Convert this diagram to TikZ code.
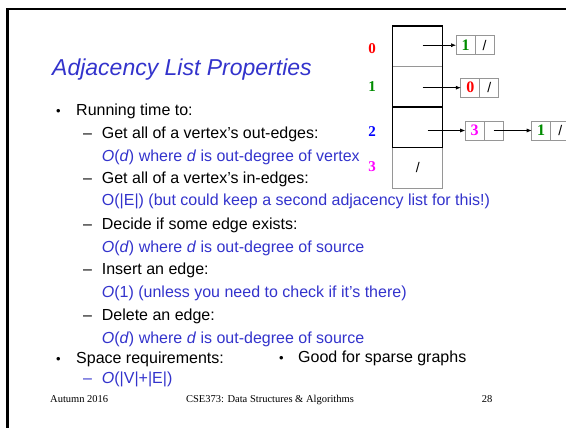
\documentclass[tikz,border=0pt]{standalone}
\usepackage{fontspec}
\setmainfont{Liberation Serif}
\setsansfont{Liberation Sans}
\usepackage{tikz}
\usetikzlibrary{arrows.meta, positioning}
\definecolor{sBlue}{RGB}{51, 51, 204}
\definecolor{sRed}{RGB}{255, 0, 0}
\definecolor{sGreen}{RGB}{0, 140, 0}
\definecolor{sIdx}{RGB}{0, 0, 255}
\definecolor{sMag}{RGB}{255, 0, 255}
\definecolor{sGray}{RGB}{150, 150, 150}

\tikzset{
  title/.style={anchor=base west, inner sep=0pt, text=sBlue,
                font=\sffamily\itshape\fontsize{23}{27}\selectfont},
  body/.style={anchor=base west, inner sep=0pt, font=\sffamily\fontsize{16}{19}\selectfont},
  blue/.style={body, text=sBlue},
  dot/.style={anchor=base west, inner sep=0pt, font=\sffamily\fontsize{13}{16}\selectfont},
  idx/.style={inner sep=0pt, font=\rmfamily\bfseries\fontsize{15}{17}\selectfont},
  cell/.style={draw=sGray, line width=0.8pt, minimum width=50, minimum height=40.5,
               inner sep=0pt, outer sep=0pt, font=\sffamily\fontsize{14}{16}\selectfont},
  half/.style={draw=sGray, line width=0.8pt, minimum width=19, minimum height=19,
               inner sep=0pt, outer sep=0pt, font=\sffamily\fontsize{14}{16}\selectfont},
  val/.style={font=\rmfamily\bfseries\fontsize{16}{18}\selectfont},
  foot/.style={anchor=base, inner sep=0pt, font=\rmfamily\fontsize{10.5}{12}\selectfont},
  ptr/.style={-{Latex[length=5pt, width=4pt]}, line width=0.6pt}
}

\begin{document}
\begin{tikzpicture}[x=1pt, y=-1pt]
  \useasboundingbox (0,0) rectangle (566,428);
  \draw[line width=2.5pt] (566,9) -- (7.5,9) -- (7.5,428);

  \node[title] (head) at (52,76) {Adjacency List Properties};

  \foreach \y/\t [count=\k] in {116/Running time to:, 363/Space requirements:}{
    \node[dot] (bd\k) at (56,\y) {•};
    \node[body] (bt\k) at (76,\y) {\t};
  }
  \foreach \y/\t [count=\k] in {138.5/{Get all of a vertex’s out-edges:},
                                183.5/{Get all of a vertex’s in-edges:},
                                229.5/{Decide if some edge exists:},
                                274.5/{Insert an edge:},
                                320/{Delete an edge:}}{
    \node[body] (sd\k) at (83,\y) {–};
    \node[body] (st\k) at (101.7,\y) {\t};
  }
  \foreach \y/\t [count=\k] in {161/{\textit{O}(\textit{d}) where \textit{d} is out-degree of vertex},
                                206/{O(|E|) (but could keep a second adjacency list for this!)},
                                252/{\textit{O}(\textit{d}) where \textit{d} is out-degree of source},
                                297/{\textit{O}(1) (unless you need to check if it’s there)},
                                343/{\textit{O}(\textit{d}) where \textit{d} is out-degree of source}}{
    \node[blue] (ct\k) at (101.7,\y) {\t};
  }
  \node[blue] (sd6) at (83,383.5) {–};
  \node[blue] (st6) at (101.7,383.5) {\textit{O}(|V|+|E|)};

  \node[dot] (bd3) at (279,362) {•};
  \node[body] (bt3) at (298,362) {Good for sparse graphs};

  % array of lists
  \foreach \i in {0,...,3}
    \node[cell] (c\i) at (417.7, {46.25+40.5*\i}) {};
  \node[inner sep=0pt, font=\sffamily\fontsize{14}{16}\selectfont] (nil) at (c3) {/};
  \draw[line width=1.2pt] (c0.north west) rectangle (c2.south east);
  \draw[line width=1.2pt] (c2.north west) -- (c2.north east);

  \foreach \i/\y/\col in {0/49/sRed, 1/87/sGreen, 2/132/sIdx, 3/167/sMag}
    \node[idx, text=\col] (i\i) at (372,\y) {\i};

  \node[half, val, text=sGreen] (n0a) at (465.5,45.2) {1};
  \node[half, right=0pt of n0a] (n0b) {/};
  \node[half, val, text=sRed] (n1a) at (470.3,87.7) {0};
  \node[half, right=0pt of n1a] (n1b) {/};
  \node[half, val, text=sMag] (n2a) at (474.7,130.5) {3};
  \node[half, right=0pt of n2a] (n2b) {};
  \node[half, val, text=sGreen] (n2c) at (541.2,130.5) {1};
  \node[half, right=0pt of n2c] (n2d) {/};

  \coordinate (p0) at ([xshift=5pt]c0.center);
  \coordinate (p1) at ([xshift=5pt]c1.center);
  \coordinate (p2) at ([xshift=10pt]c2.center);
  \draw[ptr] (p0 |- n0a.west) -- (n0a.west);
  \draw[ptr] (p1 |- n1a.west) -- (n1a.west);
  \draw[ptr] (p2 |- n2a.west) -- (n2a.west);
  \draw[ptr] (n2b.center) -- (n2c.west);

  \node[foot, anchor=base west] (fl) at (50,402) {Autumn 2016};
  \node[foot] (fc) at (270,402) {CSE373: Data Structures \& Algorithms};
  \node[foot] (fr) at (487,402) {28};
\end{tikzpicture}
\end{document}
